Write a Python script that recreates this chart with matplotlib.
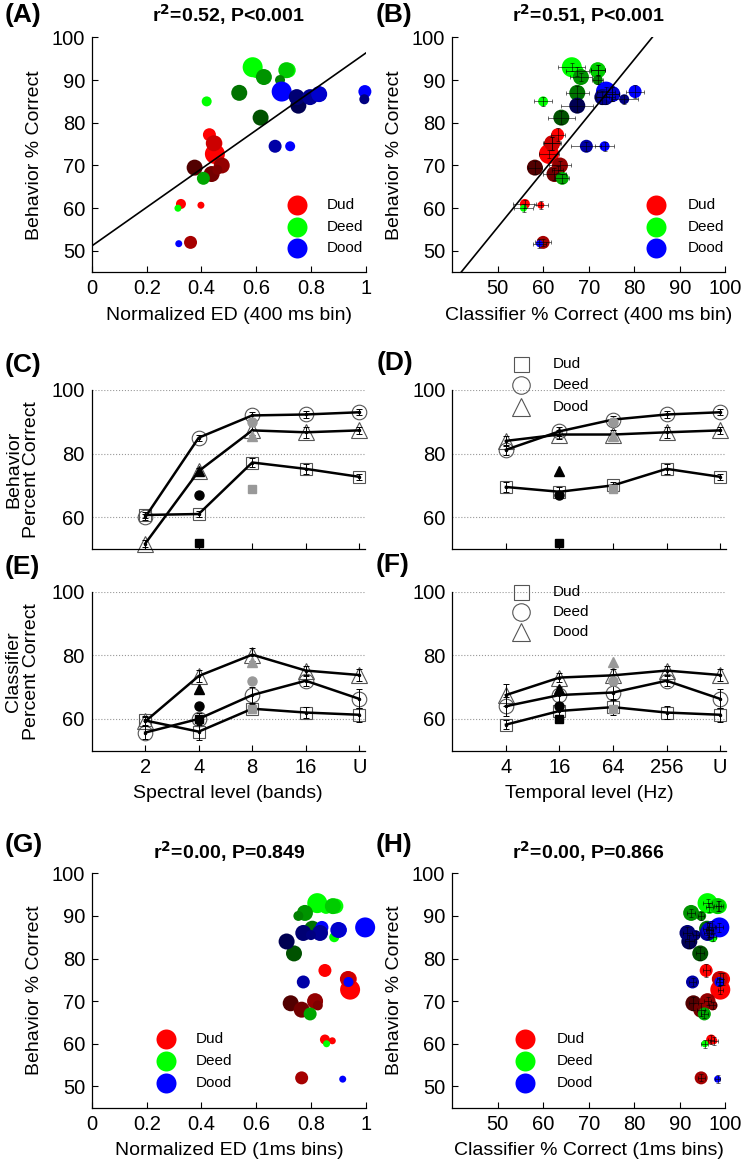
import numpy as np
import matplotlib
matplotlib.use("Agg")
import matplotlib.pyplot as plt

plt.rcParams['font.family'] = ['Liberation Sans', 'DejaVu Sans']

# ---------------- data ----------------
# condition order: spectral 2,4,8,16 bands; unprocessed; temporal 4,16,64,256 Hz; 4b+16Hz; 8b+64Hz
conditions = ['2b', '4b', '8b', '16b', 'U', '4Hz', '16Hz', '64Hz', '256Hz', '4b16Hz', '8b64Hz']
vowels = ['Dud', 'Deed', 'Dood']

behav_dud = [60.7, 61.0, 77.2, 75.2, 72.7, 69.5, 68.0, 70.0, 75.2, 52.0, 69.0]
behav_deed = [60.0, 85.0, 92.0, 92.3, 93.0, 81.2, 87.0, 90.7, 92.3, 67.0, 90.0]
behav_dood = [51.7, 74.5, 87.3, 86.7, 87.3, 84.0, 86.0, 86.0, 86.7, 74.5, 85.5]

behav_se_dud = [1.0, 1.0, 1.5, 1.5, 1.0, 1.5, 1.5, 1.0, 1.5, 0.8, 0.8]
behav_se_deed = [1.0, 1.0, 1.0, 1.2, 1.0, 1.5, 1.5, 1.0, 1.2, 1.0, 1.0]
behav_se_dood = [1.0, 1.0, 1.5, 1.7, 1.0, 1.5, 1.5, 1.5, 1.7, 1.0, 1.0]

clf400_dud = [59.5, 56.0, 63.2, 62.0, 61.3, 58.2, 62.5, 63.7, 62.0, 60.0, 63.2]
clf400_deed = [55.7, 60.0, 67.5, 72.0, 66.3, 64.0, 67.5, 68.3, 72.0, 64.2, 72.0]
clf400_dood = [59.2, 73.5, 80.2, 75.2, 73.8, 67.5, 73.0, 73.7, 75.2, 69.5, 77.8]

clf400_se_dud = [1.5, 2.5, 1.5, 1.8, 2.2, 1.5, 2.5, 2.5, 2.0, 1.7, 1.2]
clf400_se_deed = [2.0, 2.0, 2.5, 1.5, 3.0, 3.0, 2.5, 2.5, 1.5, 1.5, 1.2]
clf400_se_dood = [1.5, 2.0, 2.0, 1.5, 2.0, 3.5, 1.5, 2.0, 1.5, 3.3, 3.0]

ed400_dud = [0.398, 0.325, 0.429, 0.449, 0.449, 0.375, 0.437, 0.474, 0.445, 0.360, 0.458]
ed400_deed = [0.314, 0.419, 0.600, 0.717, 0.587, 0.616, 0.538, 0.628, 0.710, 0.407, 0.687]
ed400_dood = [0.317, 0.724, 0.997, 0.830, 0.693, 0.754, 0.748, 0.797, 0.830, 0.669, 0.995]

ed1_dud = [0.878, 0.851, 0.851, 0.940, 0.943, 0.726, 0.766, 0.815, 0.935, 0.766, 0.825]
ed1_deed = [0.857, 0.885, 0.855, 0.891, 0.823, 0.738, 0.805, 0.778, 0.880, 0.797, 0.754]
ed1_dood = [0.916, 0.937, 0.840, 0.904, 0.998, 0.711, 0.772, 0.833, 0.900, 0.772, 0.800]

clf1_dud = [97.5, 96.9, 95.8, 99.4, 98.9, 93.0, 94.7, 96.1, 98.8, 94.7, 97.2]
clf1_deed = [95.5, 97.2, 96.5, 98.7, 96.1, 94.5, 96.0, 92.5, 98.3, 95.4, 94.7]
clf1_dood = [98.3, 98.7, 97.0, 96.5, 98.7, 92.1, 91.7, 96.1, 96.5, 92.8, 93.5]

clf1_se_dud = [0.8, 0.7, 0.8, 0.7, 0.6, 1.0, 0.9, 0.8, 0.7, 0.8, 0.7]
clf1_se_deed = [0.8, 0.7, 0.8, 0.7, 0.9, 0.9, 0.8, 0.8, 0.7, 0.8, 0.7]
clf1_se_dood = [0.6, 0.7, 0.8, 0.7, 0.8, 1.0, 0.9, 0.8, 0.7, 0.8, 0.7]

spectral_labels = ['2', '4', '8', '16', 'U']
temporal_labels = ['4', '16', '64', '256', 'U']

fit400_ed = (45.1, 51.2)      # slope, intercept
fit400_clf = (1.31, -10.0)
titles = ['r$^{\\mathbf{2}}$=0.52, P<0.001', 'r$^{\\mathbf{2}}$=0.51, P<0.001',
          'r$^{\\mathbf{2}}$=0.00, P=0.849', 'r$^{\\mathbf{2}}$=0.00, P=0.866']

# ---------------- styles ----------------
base_cols = {'Dud': np.array([1.0, 0.0, 0.0]), 'Deed': np.array([0.0, 1.0, 0.0]),
             'Dood': np.array([0.0, 0.0, 1.0])}
cond_diam_px = [7, 10, 13, 15, 20, 16, 16, 16, 16, 13, 10]
cond_shade = [1, 1, 1, 1, 1, 0.32, 0.45, 0.58, 0.8, 0.65, 0.5]
spec_idx = [0, 1, 2, 3, 4]
temp_idx = [5, 6, 7, 8, 4]
comb1, comb2 = 9, 10
open_mk = {'Dud': ('s', 9), 'Deed': ('o', 10.5), 'Dood': ('^', 11)}

behav = {'Dud': behav_dud, 'Deed': behav_deed, 'Dood': behav_dood}
behav_se = {'Dud': behav_se_dud, 'Deed': behav_se_deed, 'Dood': behav_se_dood}
clf400 = {'Dud': clf400_dud, 'Deed': clf400_deed, 'Dood': clf400_dood}
clf400_se = {'Dud': clf400_se_dud, 'Deed': clf400_se_deed, 'Dood': clf400_se_dood}
ed400 = {'Dud': ed400_dud, 'Deed': ed400_deed, 'Dood': ed400_dood}
ed1 = {'Dud': ed1_dud, 'Deed': ed1_deed, 'Dood': ed1_dood}
clf1 = {'Dud': clf1_dud, 'Deed': clf1_deed, 'Dood': clf1_dood}
clf1_se = {'Dud': clf1_se_dud, 'Deed': clf1_se_deed, 'Dood': clf1_se_dood}

W, H = 742, 1160
fig = plt.figure(figsize=(W / 100, H / 100), dpi=100)


def rect(l, r, t, b):
    return [l / W, 1 - b / H, (r - l) / W, (b - t) / H]


TICK_FS = 14.5
LAB_FS = 14


def style_ax(ax):
    for s in ['top', 'right']:
        ax.spines[s].set_visible(False)
    for s in ['left', 'bottom']:
        ax.spines[s].set_linewidth(0.9)
    ax.tick_params(direction='in', length=4, width=0.8, labelsize=TICK_FS, pad=5)


def s_of(d):
    return (0.72 * d) ** 2


def scatter_panel(ax, xdata, xerr=None):
    for v in vowels:
        cols = [tuple(base_cols[v] * sh) for sh in cond_shade]
        ax.scatter(xdata[v], behav[v], s=[s_of(d) for d in cond_diam_px], c=cols,
                   linewidths=0, zorder=2, clip_on=False)
    if xerr is not None:
        for v in vowels:
            ax.errorbar(xdata[v], behav[v], xerr=xerr[v], yerr=behav_se[v], fmt='none',
                        ecolor='k', elinewidth=0.5, capsize=1.5, capthick=0.5, zorder=3,
                        alpha=0.8)


def scatter_legend(ax, xm, xt, ys):
    for v, y in zip(vowels, ys):
        ax.scatter([xm], [y], s=s_of(20), c=[tuple(base_cols[v])], transform=ax.transAxes,
                   clip_on=False, linewidths=0)
        ax.text(xt, y, v, transform=ax.transAxes, fontsize=11, va='center', ha='left')


# ---- A ----
axA = fig.add_axes(rect(92, 365.7, 37.3, 272.3))
scatter_panel(axA, ed400)
xl = np.array([0, 1])
axA.plot(xl, fit400_ed[0] * xl + fit400_ed[1], 'k-', lw=1.2, zorder=4)
axA.set_xlim(0, 1)
axA.set_ylim(45, 100)
axA.set_xticks([0, 0.2, 0.4, 0.6, 0.8, 1])
axA.set_xticklabels(['0', '0.2', '0.4', '0.6', '0.8', '1'])
axA.set_yticks([50, 60, 70, 80, 90, 100])
axA.set_xlabel('Normalized ED (400 ms bin)', fontsize=LAB_FS, labelpad=6)
axA.set_ylabel('Behavior % Correct', fontsize=LAB_FS, labelpad=6)
scatter_legend(axA, 0.748, 0.859, [0.286, 0.194, 0.105])

# ---- B ----
axB = fig.add_axes(rect(452, 725.3, 37.3, 272.3))
scatter_panel(axB, clf400, clf400_se)
xl = np.array([40, 100])
axB.plot(xl, fit400_clf[0] * xl + fit400_clf[1], 'k-', lw=1.2, zorder=4)
axB.set_xlim(40, 100)
axB.set_ylim(45, 100)
axB.set_xticks([50, 60, 70, 80, 90, 100])
axB.set_yticks([50, 60, 70, 80, 90, 100])
axB.set_xlabel('Classifier % Correct (400 ms bin)', fontsize=LAB_FS, labelpad=6)
axB.set_ylabel('Behavior % Correct', fontsize=LAB_FS, labelpad=6)
scatter_legend(axB, 0.746, 0.862, [0.286, 0.194, 0.105])

# ---- G ----
axG = fig.add_axes(rect(92, 365.7, 873.3, 1107.7))
scatter_panel(axG, ed1)
axG.set_xlim(0, 1)
axG.set_ylim(45, 100)
axG.set_xticks([0, 0.2, 0.4, 0.6, 0.8, 1])
axG.set_xticklabels(['0', '0.2', '0.4', '0.6', '0.8', '1'])
axG.set_yticks([50, 60, 70, 80, 90, 100])
axG.set_xlabel('Normalized ED (1ms bins)', fontsize=LAB_FS, labelpad=6)
axG.set_ylabel('Behavior % Correct', fontsize=LAB_FS, labelpad=6)
scatter_legend(axG, 0.269, 0.380, [0.292, 0.201, 0.107])

# ---- H ----
axH = fig.add_axes(rect(452, 725.3, 873.3, 1107.7))
scatter_panel(axH, clf1, clf1_se)
axH.set_xlim(40, 100)
axH.set_ylim(45, 100)
axH.set_xticks([50, 60, 70, 80, 90, 100])
axH.set_yticks([50, 60, 70, 80, 90, 100])
axH.set_xlabel('Classifier % Correct (1ms bins)', fontsize=LAB_FS, labelpad=6)
axH.set_ylabel('Behavior % Correct', fontsize=LAB_FS, labelpad=6)
scatter_legend(axH, 0.268, 0.384, [0.292, 0.201, 0.107])

for ax, t, yy in [(axA, titles[0], 1.095), (axB, titles[1], 1.095),
                  (axG, titles[2], 1.092), (axH, titles[3], 1.092)]:
    ax.text(0.5, yy, t, transform=ax.transAxes, ha='center', va='center',
            fontsize=14, fontweight='bold')
    style_ax(ax)

# ---- line panels ----
pos = np.arange(1, 6)


def line_panel(ax, ydict, sedict, idx):
    for v in vowels:
        y = np.array(ydict[v])[idx]
        e = np.array(sedict[v])[idx]
        mk, ms = open_mk[v]
        ax.plot(pos, y, linestyle='none', marker=mk, ms=ms, mfc='none', mec='#555555',
                mew=0.8, zorder=2, clip_on=False)
        ax.errorbar(pos, y, yerr=e, fmt='none', ecolor='k', elinewidth=0.7, capsize=2,
                    capthick=0.7, zorder=3)
        ax.plot(pos, y, 'k-', lw=1.8, marker='.', ms=3, zorder=4)
        # combined conditions
        ax.plot([pos[1]], [ydict[v][comb1]], marker=mk, ms=ms * 0.62, color='k',
                linestyle='none', zorder=5, clip_on=False)
        ax.plot([pos[2]], [ydict[v][comb2]], marker=mk, ms=ms * 0.62, color='#999999',
                linestyle='none', zorder=5)
    ax.set_xlim(0, 5.1)
    ax.set_ylim(50, 100)
    ax.set_yticks([60, 80, 100])
    ax.set_xticks(pos)
    ax.yaxis.grid(True, linestyle=':', color='#999999', lw=0.8)
    ax.set_axisbelow(True)
    style_ax(ax)
    ax.tick_params(axis='y', length=0)


def marker_legend(ax, xm, xt, ys):
    for v, y in zip(vowels, ys):
        mk, ms = open_mk[v]
        ax.plot([xm], [y], marker=mk, ms=ms * 1.2, mfc='none', mec='#555555', mew=0.8,
                transform=ax.transAxes, clip_on=False, linestyle='none')
        ax.text(xt, y, v, transform=ax.transAxes, fontsize=11, va='center', ha='left')


axC = fig.add_axes(rect(91.7, 364.6, 390, 549))
line_panel(axC, behav, behav_se, spec_idx)
axC.set_xticklabels([])
axC.set_ylabel('Behavior\nPercent Correct', fontsize=LAB_FS, labelpad=8, linespacing=1.1)

axD = fig.add_axes(rect(452.4, 725.5, 390, 549))
line_panel(axD, behav, behav_se, temp_idx)
axD.set_xticklabels([])
marker_legend(axD, 0.251, 0.367, [1.164, 1.031, 0.895])

axE = fig.add_axes(rect(91.7, 364.6, 591.7, 750.7))
line_panel(axE, clf400, clf400_se, spec_idx)
axE.set_xticklabels(spectral_labels)
axE.set_xlabel('Spectral level (bands)', fontsize=LAB_FS, labelpad=6)
axE.set_ylabel('Classifier\nPercent Correct', fontsize=LAB_FS, labelpad=8, linespacing=1.1)

axF = fig.add_axes(rect(452.4, 725.5, 591.7, 750.7))
line_panel(axF, clf400, clf400_se, temp_idx)
axF.set_xticklabels(temporal_labels)
axF.set_xlabel('Temporal level (Hz)', fontsize=LAB_FS, labelpad=6)
marker_legend(axF, 0.251, 0.367, [1.0, 0.874, 0.748])

# panel letters
for lab, x, y in [('(A)', 5, 15), ('(B)', 376, 15), ('(C)', 5, 365), ('(D)', 377, 363),
                  ('(E)', 5, 567), ('(F)', 376, 565), ('(G)', 5, 845), ('(H)', 376, 845)]:
    fig.text(x / W, 1 - y / H, lab, fontsize=19, fontweight='bold', va='center', ha='left')

fig.savefig('out.png', dpi=100)
